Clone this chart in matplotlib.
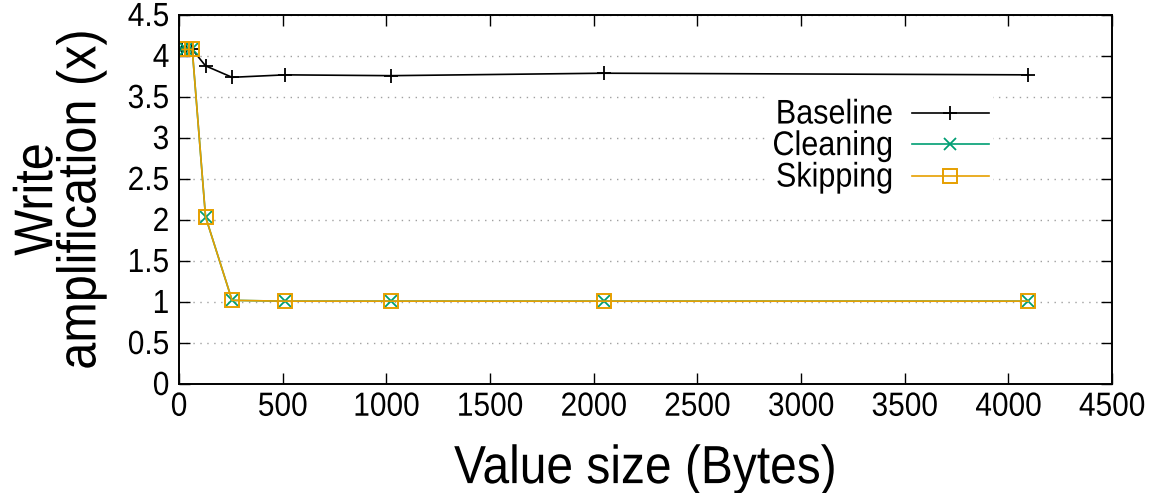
import matplotlib
matplotlib.use('Agg')
from matplotlib import pyplot as plt
from matplotlib import patheffects
from matplotlib.transforms import Affine2D

plt.rcParams['font.family'] = ['Liberation Sans', 'DejaVu Sans']

# value sizes in bytes
sizes = [16, 32, 64, 128, 256, 512, 1024, 2048, 4096]
baseline = [4.08, 4.08, 4.08, 3.88, 3.74, 3.77, 3.76, 3.79, 3.77]
cleaning = [4.08, 4.08, 4.08, 2.04, 1.02, 1.01, 1.01, 1.01, 1.01]
skipping = [4.08, 4.08, 4.08, 2.04, 1.02, 1.01, 1.01, 1.01, 1.01]

yticks = [0, 0.5, 1, 1.5, 2, 2.5, 3, 3.5, 4, 4.5]
ytick_labels = ['0', '0.5', '1', '1.5', '2', '2.5', '3', '3.5', '4', '4.5']
xticks = [0, 500, 1000, 1500, 2000, 2500, 3000, 3500, 4000, 4500]


class Tall(patheffects.AbstractPathEffect):
    """Stretch glyphs along their own vertical axis (gnuplot-ish tall text)."""

    def __init__(self, sy=1.12):
        super().__init__()
        self._sy = sy

    def draw_path(self, renderer, gc, tpath, affine, rgbFace=None):
        renderer.draw_path(gc, tpath, Affine2D().scale(1, self._sy) + affine, rgbFace)


fig = plt.figure(figsize=(11.57, 4.93), dpi=100)
ax = fig.add_axes([0.1547, 0.2211, 0.8064, 0.7485])

ax.plot(sizes, baseline, color='black', lw=1.2, marker='+', ms=10, mew=1.3, label='Baseline')
ax.plot(sizes, cleaning, color='#009e73', lw=1.2, marker='x', ms=9, mew=1.3, label='Cleaning')
ax.plot(sizes, skipping, color='#e69f00', lw=1.2, marker='s', ms=10, mew=1.4, mfc='none', label='Skipping')

ax.set_xlim(0, 4500)
ax.set_ylim(0, 4.5)
ax.set_xticks(xticks)
ax.set_yticks(yticks)
ax.set_yticklabels(ytick_labels)
ax.tick_params(direction='in', length=8, width=1, labelsize=21.5, top=True, right=True, pad=7)
ax.yaxis.grid(True, linestyle=(0, (1, 4)), color='#a0a0a0', lw=1)
for s in ax.spines.values():
    s.set_linewidth(1.4)

ax.set_xlabel('Value size (Bytes)', fontsize=34.5, labelpad=19)
ax.set_ylabel('Write\namplification (x)', fontsize=35, labelpad=16, linespacing=0.95)

leg = ax.legend(loc='upper right', bbox_to_anchor=(0.889, 0.822), frameon=True, markerfirst=False,
                fontsize=22, handlelength=2.5, handletextpad=0.65, labelspacing=0.05,
                borderpad=0.15, fancybox=False, edgecolor='none', facecolor='white', framealpha=1)

tall = [Tall()]
for t in ax.get_xticklabels() + ax.get_yticklabels() + leg.get_texts():
    t.set_path_effects(tall)
ax.xaxis.label.set_path_effects(tall)
ax.yaxis.label.set_path_effects(tall)

fig.savefig('out.png', dpi=100)
